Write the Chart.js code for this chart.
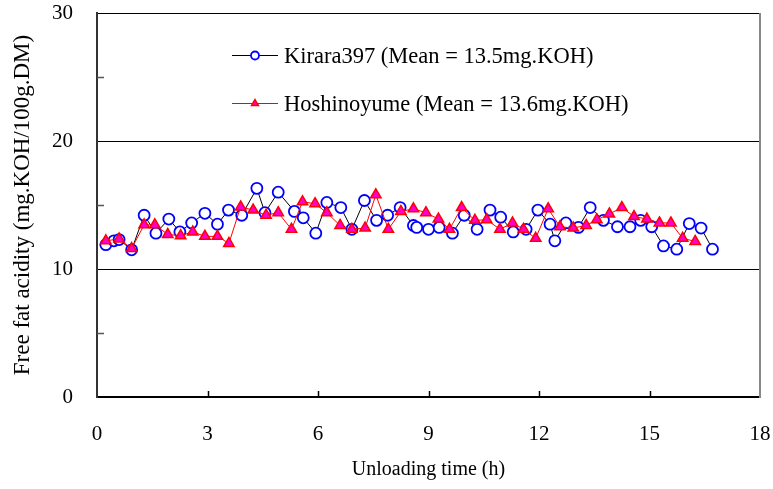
<!DOCTYPE html>
<html>
<head>
<meta charset="utf-8">
<script src="https://cdn.jsdelivr.net/npm/chart.js@4.4.1/dist/chart.umd.min.js"></script>
<style>
  html, body { margin: 0; padding: 0; background: #fff; }
  #wrap { width: 773px; height: 489px; }
</style>
</head>
<body>
<div id="wrap"><canvas id="ffaChart"></canvas></div>
<script>
const xTicks = [0, 3, 6, 9, 12, 15, 18];
const yTicks = [0, 10, 20, 30];

const kiraraLabel = 'Kirara397 (Mean = 13.5mg.KOH)';
const kiraraTime = [0.24, 0.46, 0.6, 0.94, 1.28, 1.6, 1.95, 2.25, 2.57, 2.93, 3.27, 3.57, 3.93, 4.34, 4.56,
  4.92, 5.36, 5.6, 5.94, 6.24, 6.62, 6.92, 7.26, 7.59, 7.89, 8.23, 8.59, 8.68, 9.0, 9.29,
  9.65, 9.97, 10.32, 10.67, 10.96, 11.3, 11.65, 11.97, 12.3, 12.43, 12.73, 13.07, 13.39, 13.75, 14.13,
  14.47, 14.76, 15.06, 15.38, 15.74, 16.08, 16.4, 16.71];
const kiraraFFA = [11.9, 12.2, 12.3, 11.5, 14.2, 12.8, 13.9, 12.9, 13.6, 14.35, 13.5, 14.6, 14.2, 16.3, 14.4,
  16.0, 14.5, 14.0, 12.8, 15.2, 14.8, 13.1, 15.35, 13.8, 14.2, 14.8, 13.4, 13.25, 13.1, 13.25,
  12.8, 14.2, 13.1, 14.6, 14.05, 12.9, 13.1, 14.6, 13.5, 12.2, 13.6, 13.25, 14.8, 13.8, 13.3,
  13.3, 13.8, 13.3, 11.8, 11.55, 13.55, 13.2, 11.55];

const hoshiLabel = 'Hoshinoyume (Mean = 13.6mg.KOH)';
const hoshiTime = [0.24, 0.6, 0.94, 1.28, 1.57, 1.92, 2.27, 2.6, 2.93, 3.27, 3.58, 3.9, 4.24, 4.59,
  4.92, 5.28, 5.58, 5.92, 6.24, 6.6, 6.92, 7.28, 7.57, 7.91, 8.25, 8.59,
  8.93, 9.27, 9.57, 9.9, 10.26, 10.58, 10.94, 11.28, 11.58, 11.91, 12.25, 12.57, 12.93,
  13.28, 13.57, 13.91, 14.25, 14.58, 14.93, 15.27, 15.58, 15.9, 16.24];
const hoshiFFA = [12.2, 12.35, 11.6, 13.45, 13.45, 12.7, 12.6, 12.9, 12.55, 12.55, 12.0, 14.85, 14.6, 14.2,
  14.4, 13.1, 15.25, 15.1, 14.4, 13.4, 13.1, 13.2, 15.8, 13.1, 14.5, 14.7,
  14.4, 13.9, 13.1, 14.8, 13.8, 13.85, 13.1, 13.6, 13.1, 12.4, 14.7, 13.3, 13.2,
  13.4, 13.85, 14.3, 14.8, 14.1, 13.9, 13.6, 13.6, 12.4, 12.15];

const serif = 'Liberation Serif';

function toPoints(xs, ys) {
  return xs.map((x, i) => ({ x: x, y: ys[i] }));
}

// inward tick marks and the grey right border of the plot box
const boxTicks = {
  id: 'boxTicks',
  afterDraw(chart) {
    const { ctx, chartArea: a, scales } = chart;
    ctx.save();
    ctx.lineWidth = 1.5;
    ctx.strokeStyle = '#555';
    for (let v = 5; v < 30; v += 10) {
      const y = Math.round(scales.y.getPixelForValue(v)) + 0.5;
      ctx.beginPath();
      ctx.moveTo(a.left, y);
      ctx.lineTo(a.left + 7, y);
      ctx.stroke();
    }
    ctx.strokeStyle = '#000';
    xTicks.slice(1, -1).forEach(v => {
      const x = Math.round(scales.x.getPixelForValue(v)) + 0.5;
      ctx.beginPath();
      ctx.moveTo(x, a.bottom);
      ctx.lineTo(x, a.bottom - 6);
      ctx.stroke();
    });
    ctx.strokeStyle = '#888';
    ctx.lineWidth = 2;
    ctx.beginPath();
    ctx.moveTo(a.right, a.top);
    ctx.lineTo(a.right, a.bottom + 1);
    ctx.stroke();
    ctx.restore();
  }
};

// legend drawn inside the plot, like the original
const boxLegend = {
  id: 'boxLegend',
  afterDraw(chart) {
    const { ctx } = chart;
    const rows = [
      { ds: chart.data.datasets[0], y: 55 },
      { ds: chart.data.datasets[1], y: 103 }
    ];
    ctx.save();
    rows.forEach(r => {
      ctx.strokeStyle = r.ds.borderColor;
      ctx.lineWidth = 1;
      ctx.beginPath();
      ctx.moveTo(232, r.y + 0.5);
      ctx.lineTo(278, r.y + 0.5);
      ctx.stroke();
      ctx.fillStyle = r.ds.pointBackgroundColor;
      ctx.strokeStyle = r.ds.pointBorderColor;
      ctx.lineWidth = r.ds.pointBorderWidth;
      Chart.helpers.drawPoint(ctx, {
        pointStyle: r.ds.pointStyle,
        radius: 4,
        rotation: 0,
        borderWidth: r.ds.pointBorderWidth
      }, 255, r.y + 0.5);
      ctx.fillStyle = '#000';
      ctx.font = '22.5px "' + serif + '"';
      ctx.textBaseline = 'middle';
      ctx.textAlign = 'left';
      ctx.fillText(r.ds.label, 284, r.y + 2);
    });
    ctx.restore();
  }
};

new Chart(document.getElementById('ffaChart'), {
  type: 'scatter',
  data: {
    datasets: [{
      label: kiraraLabel,
      data: toPoints(kiraraTime, kiraraFFA),
      showLine: true,
      borderColor: '#000000',
      borderWidth: 1,
      pointStyle: 'circle',
      pointRadius: 5.5,
      pointBorderWidth: 1.8,
      pointBorderColor: '#0000ff',
      pointBackgroundColor: '#ffffff',
      order: 1
    }, {
      label: hoshiLabel,
      data: toPoints(hoshiTime, hoshiFFA),
      showLine: true,
      borderColor: '#ff0000',
      borderWidth: 1,
      pointStyle: 'triangle',
      pointRadius: 6,
      pointBorderWidth: 1.5,
      pointBorderColor: '#ff0000',
      pointBackgroundColor: '#ff00cc',
      order: 0
    }]
  },
  options: {
    responsive: true,
    maintainAspectRatio: false,
    animation: false,
    layout: { padding: { top: 13, right: 13, left: 0, bottom: 0 } },
    plugins: {
      legend: { display: false },
      tooltip: { enabled: false }
    },
    scales: {
      x: {
        type: 'linear',
        min: 0,
        max: 18,
        afterFit: s => {
          s.height = 92;
          s.paddingLeft = 0;
          s.paddingRight = 0;
        },
        afterBuildTicks: s => { s.ticks = xTicks.map(v => ({ value: v })); },
        grid: { display: false, drawTicks: false },
        border: { display: true, color: '#000', width: 2 },
        ticks: { color: '#000', padding: 25, maxRotation: 0, font: { family: serif, size: 21 } },
        title: {
          display: true,
          text: 'Unloading time (h)',
          color: '#000',
          padding: { top: 0, bottom: 7 },
          font: { family: serif, size: 20 }
        }
      },
      y: {
        min: 0,
        max: 30,
        afterFit: s => {
          s.width = 97;
          s.paddingTop = 0;
          s.paddingBottom = 0;
        },
        afterBuildTicks: s => { s.ticks = yTicks.map(v => ({ value: v })); },
        grid: { color: '#000', lineWidth: 1, drawTicks: false },
        border: { display: true, color: '#333', width: 2 },
        ticks: { color: '#000', padding: 24, font: { family: serif, size: 21 } },
        title: {
          display: true,
          text: 'Free fat acidity (mg.KOH/100g.DM)',
          color: '#000',
          padding: { top: 9, bottom: 0 },
          font: { family: serif, size: 23 }
        }
      }
    }
  },
  plugins: [boxTicks, boxLegend]
});
</script>
</body>
</html>
